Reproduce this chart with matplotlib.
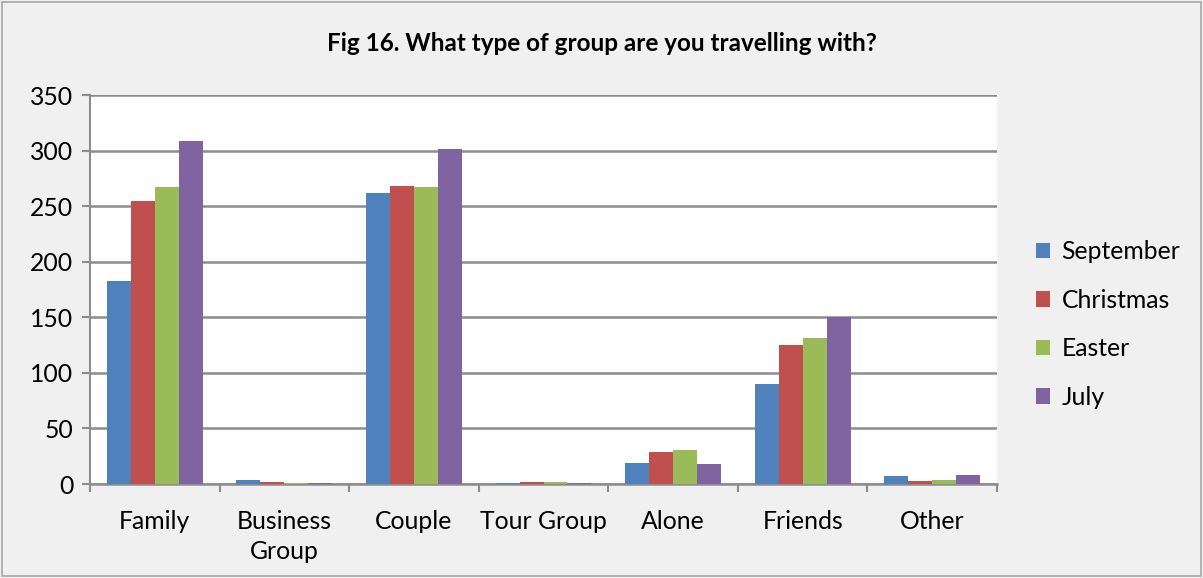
import numpy as np
from matplotlib import pyplot as plt
from matplotlib.patches import Rectangle

categories = ['Family', 'Business\nGroup', 'Couple', 'Tour Group', 'Alone', 'Friends', 'Other']
september = [183, 4, 262, 1, 19, 90, 7]
christmas = [255, 2, 268, 2, 29, 125, 3]
easter = [267, 1, 267, 2, 31, 131, 4]
july = [309, 1, 301, 1, 18, 150, 8]
series = ['September', 'Christmas', 'Easter', 'July']
colors = ['#4F81BD', '#C0504D', '#9BBB59', '#8064A2']

plt.rcParams['font.family'] = ['Lato', 'DejaVu Sans']

fig = plt.figure(figsize=(12.03, 5.78), dpi=100)
fig.patch.set_facecolor('#F0F0F0')
fig.patches.append(Rectangle((0.002, 0.003), 0.996, 0.994, transform=fig.transFigure,
                             fill=False, edgecolor='#A6A6A6', linewidth=1.2))
ax = fig.add_axes([0.0748, 0.1626, 0.754, 0.673])

x = np.arange(len(categories))
w = 0.185
for i, (name, vals) in enumerate(zip(series, [september, christmas, easter, july])):
    ax.bar(x + (i - 1.5) * w, vals, w, color=colors[i], label=name, zorder=3)

ax.set_xlim(-0.5, len(categories) - 0.5)
ax.set_ylim(0, 350)
ax.set_yticks(range(0, 351, 50))
ax.yaxis.grid(True, color='#8C8C8C', linewidth=1.8, zorder=0)
ax.set_xticks(x)
ax.set_xticklabels(categories, fontsize=17.8, linespacing=1.35)
ax.tick_params(axis='x', length=0, pad=19)
ax.set_xticks(np.arange(-0.5, len(categories)), minor=True)
ax.tick_params(axis='x', which='minor', length=6, color='#8C8C8C', width=1.5)
ax.tick_params(axis='y', labelsize=17.8, length=6, color='#8C8C8C', width=1.5, pad=6)
for s in ['top', 'right']:
    ax.spines[s].set_visible(False)
ax.spines['left'].set_color('#8C8C8C')
ax.spines['left'].set_linewidth(1.5)
ax.spines['bottom'].set_color('#8C8C8C')
ax.spines['bottom'].set_linewidth(1.8)

fig.suptitle('Fig 16. What type of group are you travelling with?', fontsize=17.5,
             fontweight='bold', y=0.945)
ax.legend(loc='center left', bbox_to_anchor=(1.018, 0.41), frameon=False, fontsize=17.8,
          handlelength=0.6, handleheight=0.6, labelspacing=1.03, handletextpad=0.45)

plt.savefig('out.png', dpi=100, facecolor=fig.get_facecolor())
